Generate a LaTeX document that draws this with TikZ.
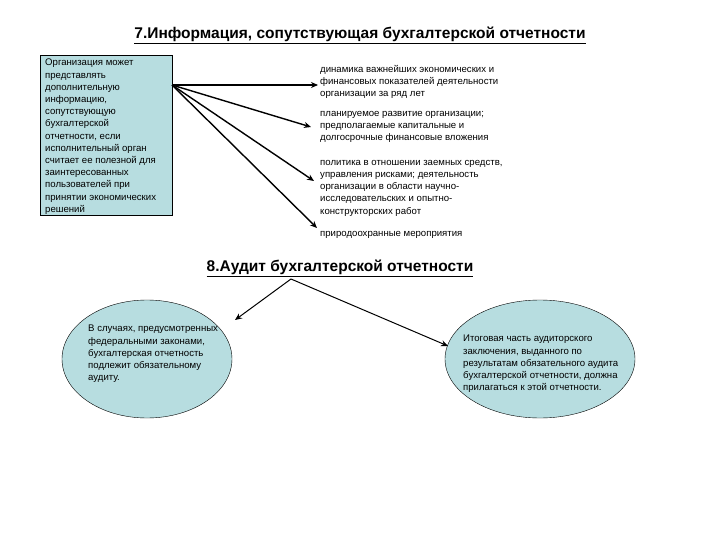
\documentclass[tikz,border=0pt]{standalone}
\usepackage{fontspec}
\setmainfont{Liberation Sans}
\usetikzlibrary{shapes.geometric,arrows.meta}
\definecolor{lb}{HTML}{B7DDE0}
\begin{document}
\begin{tikzpicture}[x=1pt,y=-1pt,
  txt/.style={anchor=north west,align=left,font=\fontsize{9.6}{12.2}\selectfont,inner sep=0pt},
  arr/.style={line width=1.4pt,-{Stealth[length=7pt,width=6pt]}},
  ell/.style={ellipse,draw,fill=lb}]
\useasboundingbox (0,0) rectangle (720,540);
\node[font=\bfseries\fontsize{15.5}{18}\selectfont] (t1) at (360,35) {\underline{7.Информация, сопутствующая бухгалтерской отчетности}};
\node[draw,fill=lb,minimum width=132,minimum height=160,anchor=north west] (box) at (40,55) {};
\node[txt] (b) at (45,59) {Организация может\\представлять\\дополнительную\\информацию,\\сопутствующую\\бухгалтерской\\отчетности, если\\исполнительный орган\\считает ее полезной для\\заинтересованных\\пользователей при\\принятии экономических\\решений};
\coordinate (s) at (172,85);
\node[txt] (r1) at (320,65) {динамика важнейших экономических и\\финансовых показателей деятельности\\организации за ряд лет};
\node[txt] (r2) at (320,111) {планируемое развитие организации;\\предполагаемые капитальные и\\долгосрочные финансовые вложения};
\node[txt] (r3) at (320,160) {политика в отношении заемных средств,\\управления рисками; деятельность\\организации в области научно-\\исследовательских и опытно-\\конструкторских работ};
\node[txt] (r4) at (320,231) {природоохранные мероприятия};
\draw[arr] (s) -- (318,85);
\draw[arr] (s) -- (311,127);
\draw[arr] (s) -- (314,181);
\draw[arr] (s) -- (317,228);
\node[font=\bfseries\fontsize{15.5}{18}\selectfont] (t2) at (340,268) {\underline{8.Аудит бухгалтерской отчетности}};
\node[ell,minimum width=170,minimum height=118] (e1) at (147,359) {};
\node[ell,minimum width=190,minimum height=118] (e2) at (540,359) {};
\node[txt] (e1t) at (88,325) {В случаях, предусмотренных\\федеральными законами,\\бухгалтерская отчетность\\подлежит обязательному\\аудиту.};
\node[txt] (e2t) at (463,335) {Итоговая часть аудиторского\\заключения, выданного по\\результатам обязательного аудита\\бухгалтерской отчетности, должна\\прилагаться к этой отчетности.};
\coordinate (a) at (291,279);
\draw[arr,line width=1pt] (a) -- (235,320);
\draw[arr,line width=1pt] (a) -- (448,346);
\end{tikzpicture}
\end{document}
